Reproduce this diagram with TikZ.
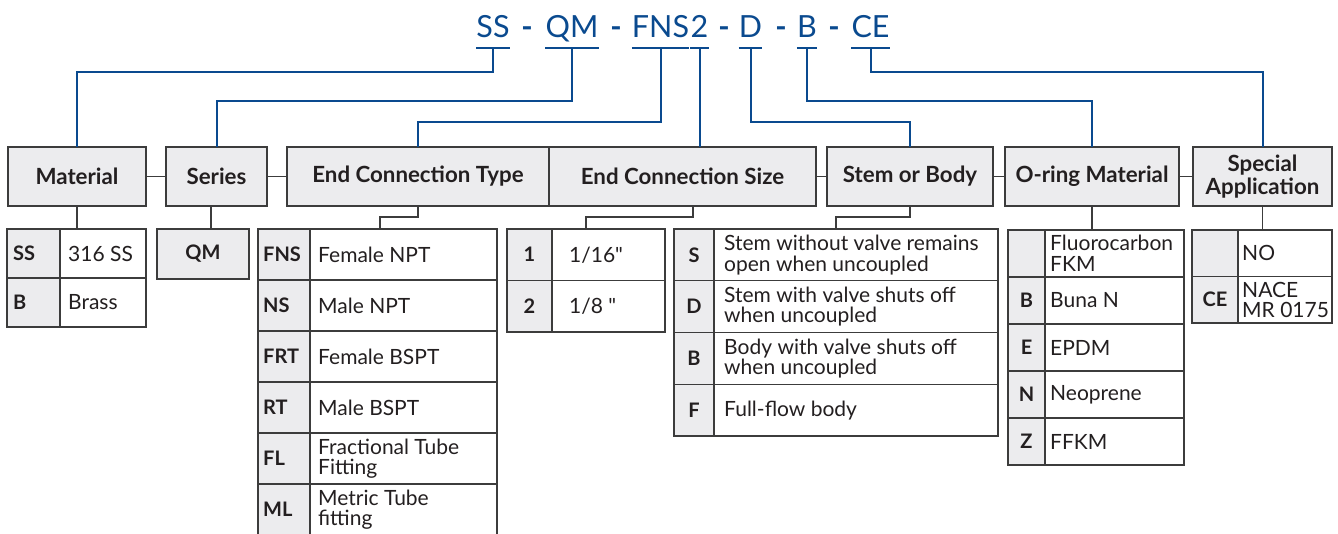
\documentclass[tikz,border=0pt]{standalone}
\usepackage{fontspec}
\setmainfont{Lato}[Ligatures=TeXOff]
\usetikzlibrary{calc}
\definecolor{tblue}{HTML}{0A4A8F}
\definecolor{lgray}{HTML}{ECECEE}
\definecolor{bord}{HTML}{3C3C3C}
\definecolor{ink}{HTML}{231F20}
\newcommand\vpad{8}
\newcommand\cx{0}
\newcommand\canc{center}
\newcommand\trow[8]{%
  \node[codecell,minimum width=#4pt,minimum height=#6pt,anchor=north west] (#1c) at (#2,#3) {};
  \node[codetext,anchor=\canc] (#1k) at ([xshift=\cx pt]#1c.\canc) {#7};
  \node[valcell,minimum width=#5pt,minimum height=#6pt,anchor=north west] (#1v) at (#1c.north east) {};
  \node[valtext,anchor=west] (#1t) at ([xshift=\vpad pt]#1v.west) {#8};
}
\tikzset{
  every node/.style={text=ink},
  hdr/.style={draw=bord,fill=lgray,line width=1.3pt,font=\bfseries\fontsize{22.3}{23}\selectfont,align=center,minimum height=59pt,inner sep=0pt,outer sep=0pt,anchor=north west},
  codecell/.style={draw=bord,fill=lgray,line width=1.3pt,inner sep=0pt,outer sep=0pt},
  codetext/.style={font=\bfseries\fontsize{20}{20}\selectfont,inner sep=0pt},
  valcell/.style={draw=bord,fill=white,line width=1.3pt,inner sep=0pt,outer sep=0pt},
  valtext/.style={font=\fontsize{21}{20.5}\selectfont,align=left,inner sep=0pt},
  gline/.style={draw=bord,line width=1.3pt},
  bline/.style={draw=tblue,line width=2pt},
  title/.style={text=tblue,font=\fontsize{30.5}{32}\selectfont,inner sep=0pt,anchor=base},
  tdash/.style={text=tblue,font=\bfseries\fontsize{30.5}{32}\selectfont,inner sep=0pt,anchor=base},
}
\begin{document}
\begin{tikzpicture}[x=1pt,y=-1pt]
\fill[white] (0,0) rectangle (1338,533);
\useasboundingbox (0,0) rectangle (1338,533);

% title
\node[title] (tSS) at (493,37) {SS};
\node[tdash] (d1) at (527,37) {-};
\node[title] (tQM) at (572,37) {QM};
\node[tdash] (d2) at (616,37) {-};
\node[title] (tFNS) at (660.5,37) {FNS};
\node[title] (t2) at (699.5,37) {2};
\node[tdash] (d3) at (724,37) {-};
\node[title] (tD) at (750.5,37) {D};
\node[tdash] (d4) at (781,37) {-};
\node[title] (tB) at (807,37) {B};
\node[tdash] (d5) at (834,37) {-};
\node[title] (tCE) at (870.5,37) {CE};

% headers
\node[hdr,minimum width=138pt] (mat) at (8,147) {Material};
\node[hdr,minimum width=101pt] (ser) at (166,147) {Series};
\node[hdr,minimum width=262pt] (ect) at (287,147) {End Connection Type};
\node[hdr,minimum width=267pt] (ecs) at (549,147) {End Connection Size};
\node[hdr,minimum width=166pt] (stm) at (827,147) {Stem or Body};
\node[hdr,minimum width=174pt] (orm) at (1005,147) {O-ring Material};
\node[hdr,minimum width=139pt] (spa) at (1193,147) {Special\\Application};

% material table
\begin{scope}
\renewcommand\canc{west}\renewcommand\cx{6}
\renewcommand\vpad{8}
\trow{mSS}{7}{229}{53}{86}{49}{SS}{316 SS}
\trow{mB}{7}{278}{53}{86}{49}{B}{Brass}
\end{scope}

% series
\node[codecell,minimum width=92pt,minimum height=50pt,anchor=north west] (qm) at (157,229) {};
\node[codetext] (qmk) at (qm.center) {QM};

% end connection type
\begin{scope}
\renewcommand\canc{west}\renewcommand\cx{5}
\renewcommand\vpad{8}
\trow{eFNS}{258}{229}{52}{187}{51}{FNS}{Female NPT}
\trow{eNS}{258}{280}{52}{187}{51}{NS}{Male NPT}
\trow{eFRT}{258}{331}{52}{187}{51}{FRT}{Female BSPT}
\trow{eRT}{258}{382}{52}{187}{51}{RT}{Male BSPT}
\trow{eFL}{258}{433}{52}{187}{51}{FL}{Fractional Tube\\Fitting}
\trow{eML}{258}{484}{52}{187}{51}{ML}{Metric Tube\\fitting}
\end{scope}

% end connection size
\begin{scope}
\renewcommand\vpad{17}
\trow{s1}{507}{229}{45}{113}{51.5}{1}{1/16"}
\trow{s2}{507}{280.5}{45}{113}{51.5}{2}{1/8 "}
\end{scope}

% stem or body
\begin{scope}
\renewcommand\vpad{10}
\trow{bS}{674}{229}{40}{284}{51.75}{S}{Stem without valve remains\\open when uncoupled}
\trow{bD}{674}{280.75}{40}{284}{51.75}{D}{Stem with valve shuts off\\when uncoupled}
\trow{bB}{674}{332.5}{40}{284}{51.75}{B}{Body with valve shuts off\\when uncoupled}
\trow{bF}{674}{384.25}{40}{284}{51.75}{F}{Full-flow body}
\end{scope}

% o-ring
\begin{scope}
\renewcommand\vpad{5}
\trow{oV}{1008}{230}{37}{139}{47}{}{Fluorocarbon\\FKM}
\trow{oB}{1008}{277}{37}{139}{47}{B}{Buna N}
\trow{oE}{1008}{324}{37}{139}{47}{E}{EPDM}
\trow{oN}{1008}{371}{37}{139}{47}{N}{Neoprene}
\trow{oZ}{1008}{418}{37}{139}{47}{Z}{FFKM}
\end{scope}

% special
\begin{scope}
\renewcommand\vpad{4}
\trow{pNO}{1192}{230}{46}{94}{46.5}{}{NO}
\trow{pCE}{1192}{276.5}{46}{94}{46.5}{CE}{NACE\\MR 0175}
\end{scope}

% blue connectors
\coordinate (ul) at (0,48);
\coordinate (l1) at (0,72);
\coordinate (l2) at (0,101);
\coordinate (l3) at (0,122);
\foreach \t in {tSS,tQM,tFNS,t2,tD,tB,tCE}
  \draw[bline] (\t.west |- ul) -- (\t.east |- ul);
\draw[bline] (tSS |- ul) -- (tSS |- l1) -| (mat.north);
\draw[bline] (tQM |- ul) -- (tQM |- l2) -| (ser.north);
\draw[bline] (tFNS |- ul) -- (tFNS |- l3) -| (ect.north);
\draw[bline] (t2 |- ul) -- (t2 |- ecs.north);
\draw[bline] (tD |- ul) -- (tD |- l3) -| (stm.north);
\draw[bline] (tB |- ul) -- (tB |- l2) -| (orm.north);
\draw[bline] (tCE |- ul) -- (tCE |- l1) -| (spa.north);

% gray connectors between headers
\draw[gline] (mat.east) -- (ser.west);
\draw[gline] (ser.east) -- (ect.west);
\draw[gline] (ecs.east) -- (stm.west);
\draw[gline] (stm.east) -- (orm.west);
\draw[gline] (orm.east) -- (spa.west);

% gray connectors to tables
\coordinate (jog) at (0,217);
\coordinate (serdrop) at (211,206);
\coordinate (ectin) at (380,229);
\coordinate (ecsout) at (693,206);
\coordinate (ecsin) at (586,229);
\coordinate (stmin) at (836,229);
\draw[gline] (mat.south) -- (mat.south |- mSSc.north);
\draw[gline] (serdrop) -- (serdrop |- qm.north);
\draw[gline] (ect.south) -- (ect.south |- jog) -| (ectin);
\draw[gline] (ecsout) -- (ecsout |- jog) -| (ecsin);
\draw[gline] (stm.south) -- (stm.south |- jog) -| (stmin);
\draw[gline] (orm.south) -- (orm.south |- oVc.north);
\draw[gline] (spa.south) -- (spa.south |- pNOc.north);
\end{tikzpicture}
\end{document}
